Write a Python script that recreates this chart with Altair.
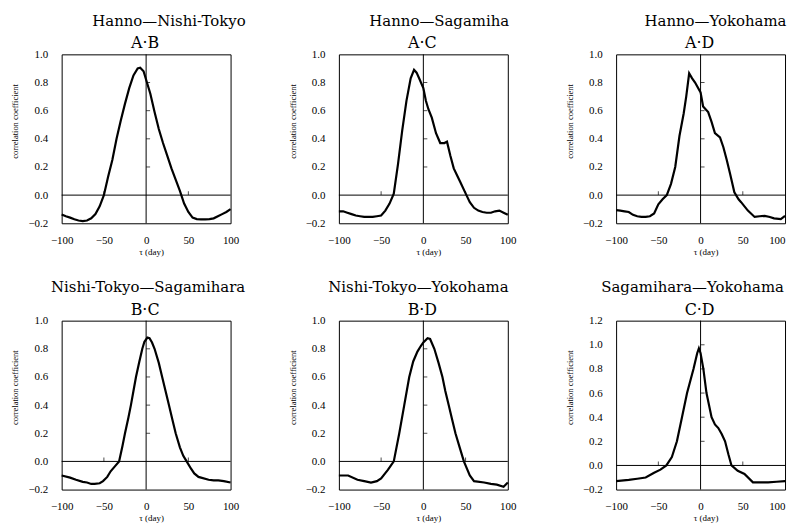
import altair as alt
import pandas as pd

# ---- data ----
lag_ab = [-100, -95, -90, -85, -80, -75, -70, -65, -60, -55, -50, -45, -40, -35, -30, -25, -20, -15, -10, -7, -3,
          0, 5, 10, 15, 20, 25, 30, 35, 40, 45, 50, 55, 60, 65, 70, 75, 80, 85, 90, 95, 100]
r_ab = [-0.137, -0.15, -0.16, -0.172, -0.18, -0.184, -0.18, -0.165, -0.135, -0.08, 0.0, 0.13, 0.25, 0.40, 0.53, 0.65,
        0.76, 0.85, 0.90, 0.905, 0.88, 0.82, 0.72, 0.59, 0.47, 0.37, 0.28, 0.19, 0.11, 0.03, -0.06, -0.12, -0.16,
        -0.17, -0.172, -0.172, -0.17, -0.165, -0.15, -0.135, -0.12, -0.10]

lag_ac = [-100, -95, -90, -85, -80, -75, -70, -65, -60, -55, -50, -45, -40, -35, -30, -25, -20, -15, -11, -8, -5,
          0, 3, 6, 10, 15, 20, 25, 28, 32, 36, 40, 44, 51, 55, 60, 65, 70, 75, 80, 85, 90, 95, 100]
r_ac = [-0.115, -0.115, -0.125, -0.135, -0.145, -0.15, -0.155, -0.155, -0.155, -0.15, -0.145, -0.11, -0.06, 0.01,
        0.22, 0.46, 0.67, 0.83, 0.89, 0.87, 0.83, 0.76, 0.67, 0.61, 0.55, 0.44, 0.37, 0.37, 0.38, 0.28, 0.19, 0.14,
        0.09, 0.0, -0.05, -0.09, -0.11, -0.12, -0.125, -0.125, -0.115, -0.11, -0.125, -0.14]

lag_ad = [-100, -95, -90, -85, -80, -75, -70, -65, -60, -55, -50, -45, -40, -35, -30, -25, -20, -17, -13.5, -10,
          -6.5, 0, 3, 9, 13, 17, 23, 27, 31, 35, 40, 45, 48, 56, 64, 70, 76, 82, 87, 95, 100]
r_ad = [-0.107, -0.11, -0.115, -0.12, -0.14, -0.15, -0.155, -0.155, -0.15, -0.13, -0.065, -0.03, 0.0, 0.08, 0.2,
        0.42, 0.58, 0.70, 0.865, 0.83, 0.80, 0.73, 0.63, 0.59, 0.52, 0.44, 0.41, 0.34, 0.25, 0.15, 0.02, -0.03,
        -0.05, -0.11, -0.155, -0.15, -0.147, -0.155, -0.165, -0.17, -0.147]

lag_bc = [-100, -90, -83, -75, -70, -65, -61, -55, -51, -46, -42, -37, -32, -28, -25, -21, -18, -15, -12, -8,
          -4.5, -2, 1.5, 4, 7, 10, 15, 19, 23, 27, 31, 35, 40, 44, 48, 53, 57, 62, 74, 80, 85.5, 92, 100]
r_bc = [-0.10, -0.115, -0.13, -0.145, -0.15, -0.16, -0.16, -0.155, -0.14, -0.11, -0.07, -0.035, 0.0, 0.11, 0.2,
        0.31, 0.4, 0.5, 0.6, 0.71, 0.8, 0.85, 0.88, 0.875, 0.845, 0.8, 0.7, 0.6, 0.5, 0.4, 0.3, 0.2, 0.1, 0.04,
        0.0, -0.05, -0.085, -0.11, -0.13, -0.135, -0.135, -0.14, -0.15]

lag_bd = [-100, -89, -78, -70, -62, -55, -50, -42, -35, -28.5, -22.6, -16.7, -12, -7, -3, 0, 5, 8, 13, 18, 22.6,
          26, 30, 34, 38, 43, 48, 55, 60, 72, 80, 87, 95, 100]
r_bd = [-0.10, -0.10, -0.13, -0.14, -0.15, -0.14, -0.12, -0.06, 0.0, 0.2, 0.4, 0.6, 0.71, 0.78, 0.82, 0.845,
        0.875, 0.87, 0.8, 0.7, 0.6, 0.5, 0.4, 0.3, 0.2, 0.1, 0.0, -0.1, -0.14, -0.15, -0.16, -0.165, -0.18, -0.15]

lag_cd = [-100, -85, -75, -65, -55, -47.5, -40.5, -34, -28, -22, -16, -8.4, -4, -2, 0, 3.3, 7, 13, 17, 21, 25, 29,
          33, 36.6, 44, 52, 62, 70, 80, 90, 100]
r_cd = [-0.13, -0.12, -0.11, -0.10, -0.06, -0.035, 0.0, 0.07, 0.2, 0.4, 0.6, 0.8, 0.93, 0.97, 0.93, 0.8, 0.6, 0.4,
        0.34, 0.31, 0.26, 0.2, 0.09, 0.0, -0.045, -0.07, -0.14, -0.14, -0.14, -0.135, -0.13]

pair_names = ["Hanno—Nishi-Tokyo", "Hanno—Sagamiha", "Hanno—Yokohama",
              "Nishi-Tokyo—Sagamihara", "Nishi-Tokyo—Yokohama", "Sagamihara—Yokohama"]
pair_codes = ["A·B", "A·C", "A·D", "B·C", "B·D", "C·D"]
y_tops = [1.0, 1.0, 1.0, 1.0, 1.0, 1.2]
x_ticks = [-100, -50, 0, 50, 100]

series = [(lag_ab, r_ab), (lag_ac, r_ac), (lag_ad, r_ad),
          (lag_bc, r_bc), (lag_bd, r_bd), (lag_cd, r_cd)]

# ---- layout / style ----
W = H = 170
name_cx = [108, 101, 100, 87, 80, 77]  # centre of first title line (px from plot left)
SERIF = "Liberation Serif"
TITLE_FONT = "DejaVu Serif"


def panel(i):
    lags, rs = series[i]
    df = pd.DataFrame({"lag": lags, "r": rs})
    ytop = y_tops[i]
    n = int(round((ytop + 0.2) / 0.2))
    yvals = [round(-0.2 + 0.2 * k, 1) for k in range(n + 1)]
    inner = [v for v in yvals if 0 < v < ytop]

    xs = alt.Scale(domain=[-100, 100], nice=False, zero=False)
    ys = alt.Scale(domain=[-0.2, ytop], nice=False, zero=False)

    last_col = (i % 3 == 2)
    x_align = ({"condition": {"test": "datum.value == 100", "value": "right"}, "value": "center"}
               if last_col else "center")
    x_axis = alt.Axis(
        values=x_ticks, title="τ (day)", grid=False, domain=False, ticks=False,
        labelFlush=False, labelOverlap=False, labelAlign=x_align,
        labelFont=SERIF, labelFontSize=11, labelPadding=11, labelColor="black",
        titleFont=SERIF, titleFontSize=9, titleFontWeight="normal", titleColor="black",
        titleX=90, titleY=28, titleBaseline="middle")
    y_axis = alt.Axis(
        values=yvals, format=".1f", title="correlation coefficient", grid=False,
        domain=False, ticks=False, labelFlush=False, labelOverlap=False,
        labelFont=SERIF, labelFontSize=11, labelPadding=14,
        labelColor="black", titleFont=SERIF, titleFontSize=8.5, titleFontWeight="normal",
        titleColor="black", titleX=-47, titleY=67, titleBaseline="middle",
        titleAlign="center", titleAngle=-90)

    def X(f):
        return alt.X(f, type="quantitative", scale=xs, axis=x_axis)

    def Y(f):
        return alt.Y(f, type="quantitative", scale=ys, axis=y_axis)

    line = alt.Chart(df).mark_line(color="black", strokeWidth=2.2).encode(x=X("lag"), y=Y("r"))

    one = pd.DataFrame({"lag": [0], "r": [0]})
    hz = alt.Chart(one).mark_rule(color="black", strokeWidth=1).encode(y=Y("r"))
    vz = alt.Chart(one).mark_rule(color="black", strokeWidth=1).encode(x=X("lag"))

    yt = pd.DataFrame({"r": inner, "lag": [0] * len(inner)})
    yticks = alt.Chart(yt).mark_tick(orient="horizontal", size=4, thickness=1, xOffset=2,
                                     color="black").encode(x=X("lag"), y=Y("r"))
    xt = pd.DataFrame({"lag": [-50, 50], "r": [0, 0]})
    xticks = alt.Chart(xt).mark_tick(orient="vertical", size=4, thickness=1, yOffset=-2,
                                     color="black").encode(x=X("lag"), y=Y("r"))

    t1 = alt.Chart(pd.DataFrame({"t": [pair_names[i]]})).mark_text(
        font=TITLE_FONT, fontSize=15, baseline="alphabetic", align="center", color="black"
    ).encode(text="t:N", x=alt.value(name_cx[i]), y=alt.value(-29))
    t2 = alt.Chart(pd.DataFrame({"t": [pair_codes[i]]})).mark_text(
        font=TITLE_FONT, fontSize=16, baseline="alphabetic", align="center", color="black"
    ).encode(text="t:N", x=alt.value(84), y=alt.value(-6))

    return alt.layer(line, hz, vz, yticks, xticks, t1, t2).properties(width=W, height=H)


chart = alt.concat(*[panel(i) for i in range(6)], columns=3,
                   spacing=alt.RowColnumber(row=98, column=109), bounds="flush").properties(
    padding={"left": 2, "top": 3, "right": 0, "bottom": 0}
).configure(background="white").configure_view(stroke="black", strokeWidth=1).configure_axis(
    labelOverlap=False, labelFlush=False
)

chart.save("out.html", embed_options={"renderer": "svg", "actions": False})
